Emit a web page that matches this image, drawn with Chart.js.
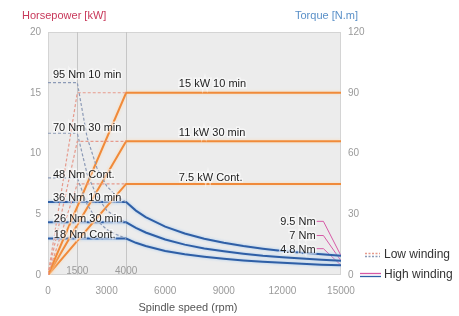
<!DOCTYPE html>
<html lang="en">
<head>
  <meta charset="UTF-8" />
  <title>Spindle output diagram</title>
  <script src="https://cdn.jsdelivr.net/npm/chart.js"></script>
  <style>
    html, body { margin: 0; padding: 0; background: #fff; }
    #wrap { width: 459px; height: 316px; position: relative; }
  </style>
</head>
<body>
  <div id="wrap"><canvas id="grafico"></canvas></div>

  <script>
    // ---- high winding, power [kW] (left axis)
    const speedPowerHigh = [0, 4000, 15000];
    const power10High = [0, 15, 15];
    const power30High = [0, 11, 11];
    const powerContHigh = [0, 7.5, 7.5];

    // ---- low winding, power [kW]
    const speedPowerLow = [0, 1500, 4000];
    const power10Low = [0, 15, 15];
    const power30Low = [0, 11, 11];
    const powerContLow = [0, 7.5, 7.5];

    // ---- high winding, torque [N.m] (right axis)
    const speedTorqueHigh = [0, 4000, 4500, 5000, 6000, 7000, 8000, 9000, 10000, 11000, 12000, 13000, 14000, 15000];
    const torque10High = [36, 36, 31.8, 28.6, 23.9, 20.5, 17.9, 15.9, 14.3, 13.0, 11.9, 11.0, 10.2, 9.5];
    const torque30High = [26, 26, 23.3, 21.0, 17.5, 15.0, 13.1, 11.7, 10.5, 9.5, 8.8, 8.1, 7.5, 7.0];
    const torqueContHigh = [18, 18, 15.9, 14.3, 11.9, 10.2, 9.0, 8.0, 7.2, 6.5, 6.0, 5.5, 5.1, 4.8];

    // ---- low winding, torque [N.m]
    const speedTorqueLow = [0, 1500, 2000, 2500, 3000, 3500, 4000];
    const torque10Low = [95, 95, 68, 53, 44, 39, 36];
    const torque30Low = [70, 70, 50, 39, 32, 28.5, 26];
    const torqueContLow = [48, 48, 35, 27, 22.5, 20, 18];

    // ---- leader lines for the torque values at max speed
    const leaderSpeed = [13750, 14100, 15000];
    const leader95 = [26.5, 26.5, 9.5];
    const leader7 = [19.5, 19.5, 7];
    const leader48 = [13, 13, 4.8];

    // ---- axis ticks
    const speedTicks = [0, 3000, 6000, 9000, 12000, 15000];
    const powerTicks = [0, 5, 10, 15, 20];
    const torqueTicks = [0, 30, 60, 90, 120];
    const markSpeeds = [1500, 4000];

    // ---- notes (text, rpm, kW)
    const notes = [
      ['95 Nm 10 min', 250, 16.5, 'left'],
      ['70 Nm 30 min', 250, 12.1, 'left'],
      ['48 Nm Cont.', 250, 8.2, 'left'],
      ['36 Nm 10 min', 250, 6.3, 'left'],
      ['26 Nm 30 min', 300, 4.6, 'left'],
      ['18 Nm Cont.', 300, 3.3, 'left'],
      ['15 kW 10 min', 6700, 15.7, 'left'],
      ['11 kW 30 min', 6700, 11.7, 'left'],
      ['7.5 kW Cont.', 6700, 8.0, 'left'],
      ['9.5 Nm', 13700, 4.35, 'right'],
      ['7 Nm', 13700, 3.2, 'right'],
      ['4.8 Nm', 13700, 2.1, 'right']
    ];

    const FONT = '"Liberation Sans", Arial, sans-serif';
    const ORANGE = '#f08a3a';
    const BLUE = '#2f5fa6';
    const PINK_DASH = '#e69a8c';
    const GREY_DASH = '#8c9ab6';
    const MAGENTA = '#d65aa6';

    const pts = (xs, ys) => xs.map((x, i) => ({ x: x, y: ys[i] }));

    function linea(xs, ys, axis, color, dashed, halo) {
      return {
        data: pts(xs, ys),
        yAxisID: axis,
        borderColor: color,
        borderWidth: dashed ? 1.2 : 2,
        borderDash: dashed ? [3, 2] : [],
        pointRadius: 0,
        tension: 0,
        fill: false,
        halo: halo
      };
    }

    const fondo = {
      id: 'fondo',
      beforeDraw(chart) {
        const { ctx, chartArea: a, scales } = chart;
        ctx.save();
        ctx.fillStyle = '#ececec';
        ctx.fillRect(a.left, a.top, a.right - a.left, a.bottom - a.top);
        ctx.strokeStyle = '#d4d4d4';
        ctx.lineWidth = 1;
        ctx.strokeRect(a.left + 0.5, a.top + 0.5, a.right - a.left - 1, a.bottom - a.top - 1);
        ctx.strokeStyle = '#c6c6c6';
        markSpeeds.forEach(v => {
          const x = Math.round(scales.x.getPixelForValue(v)) + 0.5;
          ctx.beginPath();
          ctx.moveTo(x, a.top);
          ctx.lineTo(x, a.bottom);
          ctx.stroke();
        });
        ctx.restore();
      },
      beforeDatasetDraw(chart, args) {
        const ds = chart.data.datasets[args.index];
        chart.ctx.save();
        if (ds.halo) {
          chart.ctx.shadowColor = ds.halo;
          chart.ctx.shadowBlur = 3;
        }
      },
      afterDatasetDraw(chart) {
        chart.ctx.restore();
      },
      afterDraw(chart) {
        const { ctx, chartArea: a, scales } = chart;
        ctx.save();
        // notes
        ctx.font = '11px ' + FONT;
        ctx.textBaseline = 'middle';
        notes.forEach(n => {
          const x = scales.x.getPixelForValue(n[1]);
          const y = scales.yP.getPixelForValue(n[2]);
          ctx.textAlign = n[3];
          ctx.lineWidth = 3;
          ctx.strokeStyle = 'rgba(255,255,255,0.55)';
          ctx.strokeText(n[0], x, y);
          ctx.fillStyle = '#1e1e1e';
          ctx.fillText(n[0], x, y);
        });
        // 1500 / 4000 marks
        ctx.font = '10px ' + FONT;
        ctx.fillStyle = '#9a9a9a';
        ctx.textAlign = 'center';
        ctx.textBaseline = 'bottom';
        markSpeeds.forEach(v => {
          ctx.fillText(String(v), scales.x.getPixelForValue(v), a.bottom + 1);
        });
        // axis titles
        ctx.font = '11px ' + FONT;
        ctx.textBaseline = 'middle';
        ctx.textAlign = 'left';
        ctx.fillStyle = '#c8385a';
        ctx.fillText('Horsepower [kW]', 22, 16);
        ctx.fillStyle = '#5a90c8';
        ctx.fillText('Torque [N.m]', 295, 16);
        ctx.fillStyle = '#555';
        ctx.textAlign = 'center';
        ctx.fillText('Spindle speed (rpm)', 188, 308);
        // legend
        ctx.lineWidth = 1.3;
        ctx.setLineDash([2, 1.5]);
        ctx.strokeStyle = PINK_DASH;
        ctx.beginPath(); ctx.moveTo(365, 253.5); ctx.lineTo(380, 253.5); ctx.stroke();
        ctx.strokeStyle = GREY_DASH;
        ctx.beginPath(); ctx.moveTo(365, 256.5); ctx.lineTo(380, 256.5); ctx.stroke();
        ctx.setLineDash([]);
        ctx.strokeStyle = MAGENTA;
        ctx.beginPath(); ctx.moveTo(360, 273.5); ctx.lineTo(381, 273.5); ctx.stroke();
        ctx.strokeStyle = BLUE;
        ctx.beginPath(); ctx.moveTo(360, 276.5); ctx.lineTo(381, 276.5); ctx.stroke();
        ctx.font = '12px ' + FONT;
        ctx.fillStyle = '#333';
        ctx.textAlign = 'left';
        ctx.fillText('Low winding', 384, 255);
        ctx.fillText('High winding', 384, 275);
        ctx.restore();
      }
    };

    const tickStyle = { color: '#9a9a9a', font: { size: 10, family: FONT }, callback: v => String(v) };

    new Chart(document.getElementById('grafico'), {
      type: 'line',
      data: {
        datasets: [
          linea(speedTorqueLow, torque10Low, 'yT', GREY_DASH, true),
          linea(speedTorqueLow, torque30Low, 'yT', GREY_DASH, true),
          linea(speedTorqueLow, torqueContLow, 'yT', GREY_DASH, true),
          linea(speedPowerLow, power10Low, 'yP', PINK_DASH, true),
          linea(speedPowerLow, power30Low, 'yP', PINK_DASH, true),
          linea(speedPowerLow, powerContLow, 'yP', PINK_DASH, true),
          linea(speedPowerHigh, power10High, 'yP', ORANGE, false, 'rgba(255,215,170,0.9)'),
          linea(speedPowerHigh, power30High, 'yP', ORANGE, false, 'rgba(255,215,170,0.9)'),
          linea(speedPowerHigh, powerContHigh, 'yP', ORANGE, false, 'rgba(255,215,170,0.9)'),
          linea(speedTorqueHigh, torque10High, 'yT', BLUE, false, 'rgba(160,200,240,1)'),
          linea(speedTorqueHigh, torque30High, 'yT', BLUE, false, 'rgba(160,200,240,1)'),
          linea(speedTorqueHigh, torqueContHigh, 'yT', BLUE, false, 'rgba(160,200,240,1)'),
          Object.assign(linea(leaderSpeed, leader95, 'yT', MAGENTA, false), { borderWidth: 1 }),
          Object.assign(linea(leaderSpeed, leader7, 'yT', MAGENTA, false), { borderWidth: 1 }),
          Object.assign(linea(leaderSpeed, leader48, 'yT', MAGENTA, false), { borderWidth: 1 })
        ]
      },
      options: {
        responsive: true,
        maintainAspectRatio: false,
        animation: false,
        layout: { padding: { top: 32, left: 0, right: 0, bottom: 0 } },
        plugins: { legend: { display: false }, tooltip: { enabled: false } },
        scales: {
          x: {
            type: 'linear',
            min: 0,
            max: 15000,
            afterFit: s => { s.height = 41; },
            afterBuildTicks: s => { s.ticks = speedTicks.map(v => ({ value: v })); },
            grid: { display: false, drawTicks: false },
            border: { display: false },
            ticks: Object.assign({ padding: 10 }, tickStyle)
          },
          yP: {
            position: 'left',
            min: 0,
            max: 20,
            afterFit: s => { s.width = 48; },
            afterBuildTicks: s => { s.ticks = powerTicks.map(v => ({ value: v })); },
            grid: { display: false, drawTicks: false },
            border: { display: false },
            ticks: Object.assign({ padding: 7 }, tickStyle)
          },
          yT: {
            position: 'right',
            min: 0,
            max: 120,
            afterFit: s => { s.width = 118; },
            afterBuildTicks: s => { s.ticks = torqueTicks.map(v => ({ value: v })); },
            grid: { display: false, drawTicks: false },
            border: { display: false },
            ticks: Object.assign({ padding: 7 }, tickStyle)
          }
        }
      },
      plugins: [fondo]
    });
  </script>
</body>
</html>
